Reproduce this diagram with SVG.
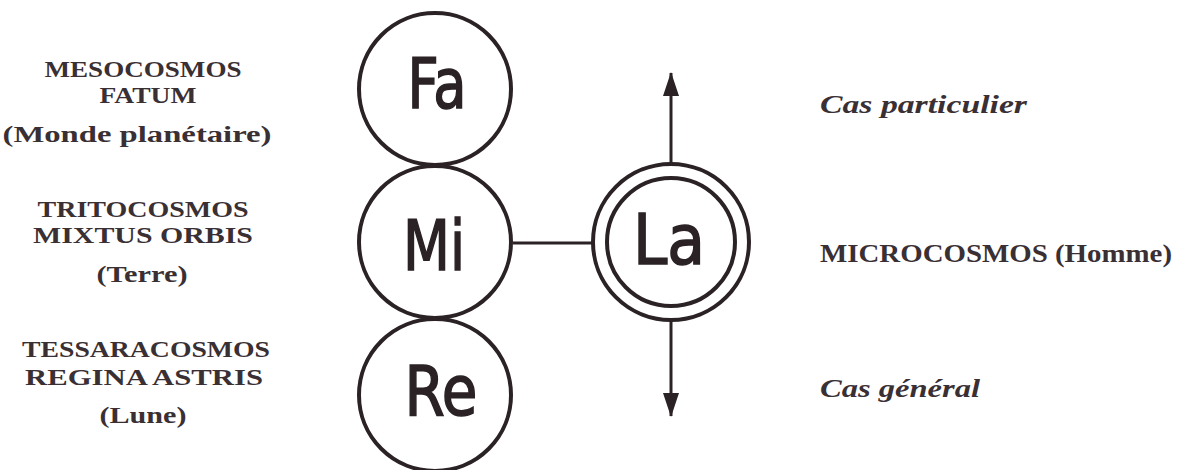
<svg xmlns="http://www.w3.org/2000/svg" width="1179" height="470" viewBox="0 0 1179 470">
<style>
.bg{fill:#fff}
.c{fill:none;stroke:#2a2224;stroke-width:4}
.lbl{font-family:"DejaVu Sans Condensed","DejaVu Sans",sans-serif;font-size:70px;fill:#2a2224;stroke:#2a2224;stroke-width:1.5;text-anchor:middle}
.t{font-family:"Liberation Serif",serif;font-size:23px;font-weight:bold;fill:#3a3034;text-anchor:middle}
.r{font-family:"Liberation Serif",serif;font-size:26px;font-weight:bold;fill:#3a3034}
.i{font-style:italic}
.ln{stroke:#2a2224;stroke-width:3;fill:none}
</style>
<defs>
<marker id="a" viewBox="0 0 24 16" refX="23" refY="8" markerWidth="24" markerHeight="16" orient="auto" markerUnits="userSpaceOnUse">
<path d="M0,0 L24,8 L0,16 z" fill="#2a2224"/>
</marker>
</defs>
<rect class="bg" width="1179" height="470"/>
<g id="connectors">
<line class="ln" x1="513" y1="243" x2="593" y2="243"/>
<line class="ln" x1="671" y1="163" x2="671" y2="73" marker-end="url(#a)"/>
<line class="ln" x1="671" y1="321" x2="671" y2="416" marker-end="url(#a)"/>
</g>
<g id="Fa">
<circle class="c" cx="435" cy="89" r="76"/>
<text class="lbl" x="437" y="108" textLength="59" lengthAdjust="spacingAndGlyphs">Fa</text>
</g>
<g id="Mi">
<circle class="c" cx="435" cy="242" r="76"/>
<text class="lbl" x="434" y="270" textLength="62" lengthAdjust="spacingAndGlyphs">Mi</text>
</g>
<g id="Re">
<circle class="c" cx="435" cy="395" r="76"/>
<text class="lbl" x="441" y="415" textLength="73" lengthAdjust="spacingAndGlyphs">Re</text>
</g>
<g id="La">
<circle class="c" cx="671" cy="242" r="78"/>
<circle class="c" cx="671" cy="242" r="64"/>
<text class="lbl" x="669" y="264" textLength="72" lengthAdjust="spacingAndGlyphs">La</text>
</g>
<g id="labels-left">
<text class="t" x="143" y="77" textLength="197" lengthAdjust="spacingAndGlyphs">MESOCOSMOS</text>
<text class="t" x="148" y="103" textLength="97" lengthAdjust="spacingAndGlyphs">FATUM</text>
<text class="t" x="137" y="142" textLength="269" lengthAdjust="spacingAndGlyphs">(Monde planétaire)</text>
<text class="t" x="143" y="217" textLength="211" lengthAdjust="spacingAndGlyphs">TRITOCOSMOS</text>
<text class="t" x="143" y="243" textLength="220" lengthAdjust="spacingAndGlyphs">MIXTUS ORBIS</text>
<text class="t" x="142" y="282" textLength="91" lengthAdjust="spacingAndGlyphs">(Terre)</text>
<text class="t" x="146" y="357" textLength="248" lengthAdjust="spacingAndGlyphs">TESSARACOSMOS</text>
<text class="t" x="144" y="385" textLength="238" lengthAdjust="spacingAndGlyphs">REGINA ASTRIS</text>
<text class="t" x="143" y="423" textLength="87" lengthAdjust="spacingAndGlyphs">(Lune)</text>
</g>
<g id="labels-right">
<text class="r i" x="820" y="113" textLength="207" lengthAdjust="spacingAndGlyphs">Cas particulier</text>
<text class="r" x="820" y="262" textLength="352" lengthAdjust="spacingAndGlyphs">MICROCOSMOS (Homme)</text>
<text class="r i" x="820" y="397" textLength="160" lengthAdjust="spacingAndGlyphs">Cas général</text>
</g>
</svg>
